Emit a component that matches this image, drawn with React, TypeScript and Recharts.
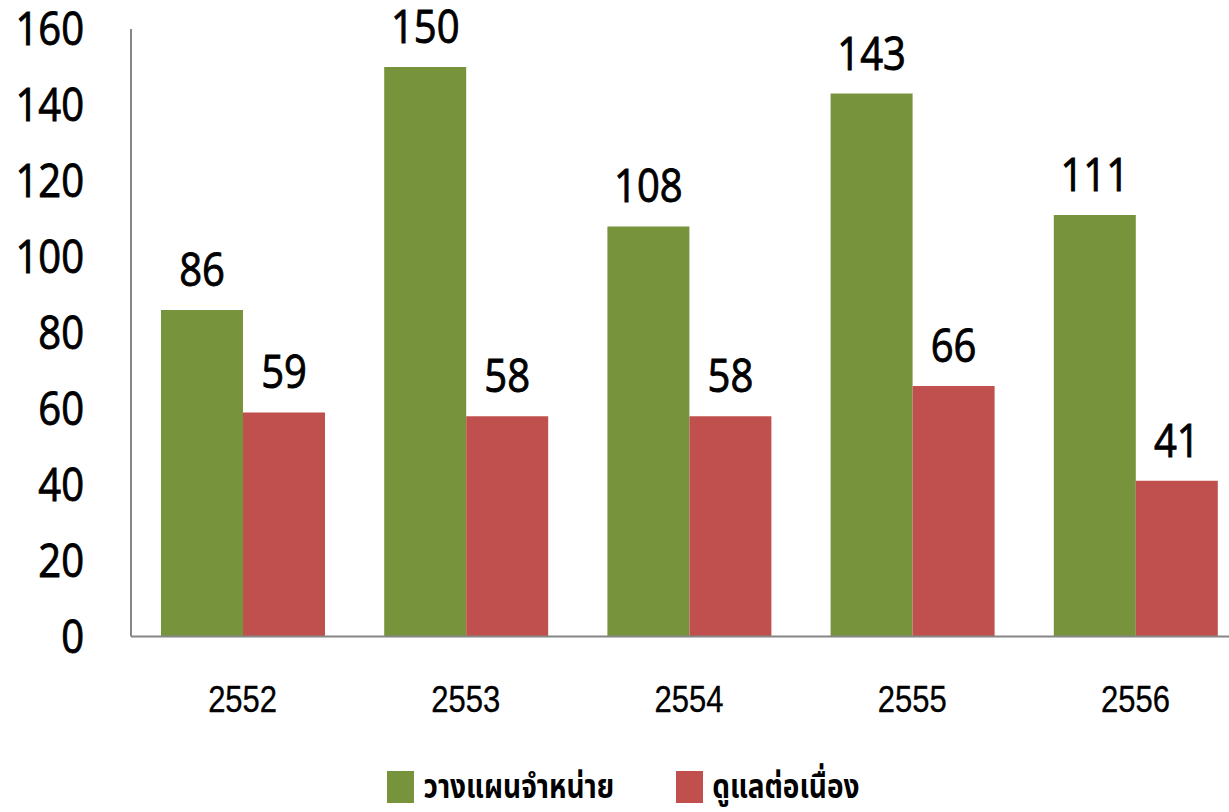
import { Bar, BarChart, LabelList, Legend, XAxis, YAxis } from "recharts";

const years = ["2552", "2553", "2554", "2555", "2556"];
const planSales = [86, 150, 108, 143, 111];
const careOngoing = [59, 58, 58, 66, 41];
const yTicks = [0, 20, 40, 60, 80, 100, 120, 140, 160];

const seriesNames = ["วางแผนจำหน่าย", "ดูแลต่อเนื่อง"];
const seriesColors = ["#77933C", "#C0504D"];

const data = years.map((year, i) => ({
  year,
  plan: planSales[i],
  care: careOngoing[i],
}));

const numFont = "'Open Sans', 'DejaVu Sans', sans-serif";

// numbers are a bit heavier than regular, so a thin outline is added
function YTick(props: any) {
  const { x, y, payload } = props;
  return (
    <g transform={`translate(${x},${y + 16}) scale(1,1.15)`}>
      <text
        x={0}
        y={0}
        textAnchor="end"
        fontFamily={numFont}
        fontSize={40}
        fill="#000"
        stroke="#000"
        strokeWidth={0.8}
      >
        {payload.value}
      </text>
    </g>
  );
}

function XTick(props: any) {
  const { x, y, payload } = props;
  return (
    <g transform={`translate(${x},${y + 75.5}) scale(1,1.17)`}>
      <text
        x={0}
        y={0}
        textAnchor="middle"
        fontFamily="'Liberation Sans', Arial, sans-serif"
        fontSize={31}
        fill="#000"
        stroke="#000"
        strokeWidth={0.3}
      >
        {payload.value}
      </text>
    </g>
  );
}

function TopLabel(props: any) {
  const { x, y, width, value } = props;
  return (
    <g transform={`translate(${x + width / 2},${y - 24}) scale(1,1.15)`}>
      <text
        x={0}
        y={0}
        textAnchor="middle"
        fontFamily={numFont}
        fontSize={40}
        fill="#000"
        stroke="#000"
        strokeWidth={0.8}
      >
        {value}
      </text>
    </g>
  );
}

function ChartLegend() {
  return (
    <div style={{ height: 50, display: "flex", justifyContent: "center", alignItems: "center" }}>
      {seriesNames.map((name, i) => (
        <div key={name} style={{ display: "flex", alignItems: "center", marginLeft: i === 0 ? 0 : 62 }}>
          <span style={{ width: 27, height: 32, background: seriesColors[i], display: "inline-block" }} />
          <span
            style={{
              marginLeft: 9,
              fontFamily: "'Noto Sans Thai', 'Noto Sans', 'DejaVu Sans', sans-serif",
              fontSize: 28,
              fontWeight: 700,
              color: "#000",
              display: "inline-block",
              transform: "scaleY(1.2)",
            }}
          >
            {name}
          </span>
        </div>
      ))}
    </div>
  );
}

export default function App() {
  return (
    <div
      style={{
        position: "absolute",
        left: 0,
        top: 0,
        width: 1229,
        height: 812,
        overflow: "hidden",
        background: "#fff",
      }}
    >
      <BarChart
        width={1250}
        height={812}
        data={data}
        margin={{ top: 29, right: 3, left: 0, bottom: 0 }}
        barCategoryGap={30}
        barGap={0}
      >
        <XAxis
          dataKey="year"
          height={125.5}
          axisLine={{ stroke: "#868686", strokeWidth: 2 }}
          tickLine={false}
          tickSize={0}
          tickMargin={0}
          tick={<XTick />}
        />
        <YAxis
          width={131}
          domain={[0, 160]}
          ticks={yTicks}
          axisLine={{ stroke: "#868686", strokeWidth: 2 }}
          tickLine={false}
          tickSize={0}
          tickMargin={47}
          tick={<YTick />}
        />
        <Legend verticalAlign="bottom" content={<ChartLegend />} />
        <Bar dataKey="plan" name={seriesNames[0]} fill={seriesColors[0]} isAnimationActive={false}>
          <LabelList dataKey="plan" content={<TopLabel />} />
        </Bar>
        <Bar dataKey="care" name={seriesNames[1]} fill={seriesColors[1]} isAnimationActive={false}>
          <LabelList dataKey="care" content={<TopLabel />} />
        </Bar>
      </BarChart>
    </div>
  );
}
